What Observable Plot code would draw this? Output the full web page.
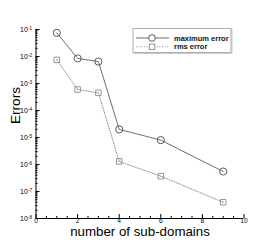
<!DOCTYPE html>
<html>
<head>
<meta charset="utf-8">
<script src="https://cdn.jsdelivr.net/npm/d3@7"></script>
<script src="https://cdn.jsdelivr.net/npm/@observablehq/plot@0.6"></script>
<style>
  html, body { margin: 0; padding: 0; background: #fff; }
  #chart svg { display: block; }
</style>
</head>
<body>
<div id="chart"></div>
<script>
// ---- data ----
const subDomains = [1, 2, 3, 4, 6, 9];
const maximumError = [0.075, 0.0085, 0.0065, 2.0e-5, 8.0e-6, 5.5e-7];
const rmsError = [0.0075, 6.0e-4, 4.5e-4, 1.3e-6, 3.7e-7, 4.0e-8];
const seriesNames = ["maximum error", "rms error"];
const xMajorTicks = [0, 2, 4, 6, 8, 10];
const xMinorTicks = [0.5, 1, 1.5, 2.5, 3, 3.5, 4.5, 5, 5.5, 6.5, 7, 7.5, 8.5, 9, 9.5];
const yMajorTicks = [1e-8, 1e-7, 1e-6, 1e-5, 1e-4, 1e-3, 1e-2, 1e-1];
const xDomain = [0, 10];
const yDomain = [1e-8, 1e-1];
const xLabel = "number of sub-domains";
const yLabel = "Errors";

const yMinorTicks = d3.scaleLog().domain(yDomain).ticks().filter(t => !yMajorTicks.some(m => Math.abs(m - t) / m < 1e-6));

const maxData = subDomains.map((x, i) => ({x, y: maximumError[i]}));
const rmsData = subDomains.map((x, i) => ({x, y: rmsError[i]}));

const font = "'Liberation Sans', Arial, Helvetica, sans-serif";
const maxColor = "#4a4a4a";
const rmsColor = "#8a8a8a";

const plot = Plot.plot({
  width: 277,
  height: 246,
  marginLeft: 35.5,
  marginRight: 33.5,
  marginTop: 29,
  marginBottom: 28,
  style: {fontFamily: font, fontSize: "7px", color: "#000", background: "#fff"},
  x: {domain: xDomain, axis: null, label: null},
  y: {type: "log", domain: yDomain, axis: null, label: null},
  marks: [
    // axis lines
    Plot.ruleX([xDomain[0]], {stroke: "#000", strokeWidth: 1}),
    Plot.ruleY([yDomain[0]], {stroke: "#000", strokeWidth: 1}),
    // inward ticks (no text)
    Plot.axisX(xMajorTicks, {tickSize: -4, fill: "none", stroke: "#000", label: null}),
    Plot.axisX(xMinorTicks, {tickSize: -2, fill: "none", stroke: "#000", label: null}),
    Plot.axisY(yMajorTicks, {tickSize: -4, fill: "none", stroke: "#000", label: null}),
    Plot.axisY(yMinorTicks, {tickSize: -2, fill: "none", stroke: "#000", label: null}),
    // tick labels (no ticks)
    Plot.axisX(xMajorTicks, {tickSize: 0, tickPadding: 0, tickFormat: d => String(d), fontSize: 6.6, fill: "#000", label: null}),
    Plot.axisY(yMajorTicks, {tickSize: 0, tickPadding: 4, tickFormat: d => "10^" + Math.round(Math.log10(d)), fontSize: 7, fill: "#000", label: null}),
    // axis titles
    Plot.text([xLabel], {frameAnchor: "bottom", dy: 17.3, fontSize: 13.3, fill: "#000"}),
    Plot.text([yLabel], {frameAnchor: "left", dx: -20, rotate: -90, fontSize: 13.6, fill: "#000"}),
    // series
    Plot.line(rmsData, {x: "x", y: "y", stroke: rmsColor, strokeWidth: 1, strokeDasharray: "1,1.6"}),
    Plot.dot(rmsData, {x: "x", y: "y", symbol: "square", r: 3.1, stroke: rmsColor, fill: "none", strokeWidth: 0.9}),
    Plot.dot(rmsData, {x: "x", y: "y", r: 0.5, fill: rmsColor}),
    Plot.line(maxData, {x: "x", y: "y", stroke: maxColor, strokeWidth: 0.8}),
    Plot.dot(maxData, {x: "x", y: "y", symbol: "circle", r: 3.6, stroke: maxColor, fill: "none", strokeWidth: 0.9})
  ]
});

// superscript exponents in y tick labels
d3.select(plot).selectAll("text").each(function() {
  const t = d3.select(this);
  const s = t.text();
  const m = /^10\^(-?\d+)$/.exec(s);
  if (m) {
    t.text("10");
    t.append("tspan").attr("dy", "-0.45em").attr("font-size", "4.6px").text(m[1]);
  }
});

// legend box (inside plot, top-right)
const svg = d3.select(plot);
const lg = svg.append("g").attr("font-family", font).attr("text-anchor", "start");
const bx = 133, by = 28.5, bw = 98, bh = 24;
lg.append("rect").attr("x", bx + 1).attr("y", by + 1).attr("width", bw).attr("height", bh)
  .attr("fill", "none").attr("stroke", "#ccc").attr("stroke-width", 1);
lg.append("rect").attr("x", bx).attr("y", by).attr("width", bw).attr("height", bh)
  .attr("fill", "#fff").attr("stroke", "#999").attr("stroke-width", 0.8);
seriesNames.forEach((name, i) => {
  const yy = by + 9.5 + i * 8.8;
  const isMax = i === 0;
  const col = isMax ? maxColor : rmsColor;
  lg.append("line").attr("x1", bx + 3).attr("x2", bx + 36).attr("y1", yy).attr("y2", yy)
    .attr("stroke", col).attr("stroke-width", isMax ? 0.8 : 1)
    .attr("stroke-dasharray", isMax ? null : "1,1.6");
  if (isMax) {
    lg.append("circle").attr("cx", bx + 19).attr("cy", yy).attr("r", 3.3)
      .attr("fill", "#fff").attr("stroke", col).attr("stroke-width", 0.9);
  } else {
    lg.append("rect").attr("x", bx + 16.3).attr("y", yy - 2.7).attr("width", 5.4).attr("height", 5.4)
      .attr("fill", "#fff").attr("stroke", col).attr("stroke-width", 0.9);
  }
  lg.append("text").attr("x", bx + 41).attr("y", yy).attr("dy", "0.35em")
    .attr("text-anchor", "start")
    .attr("font-size", "7.5px").attr("font-weight", "bold").attr("fill", "#111").text(name);
});

document.getElementById("chart").appendChild(plot);
</script>
</body>
</html>
